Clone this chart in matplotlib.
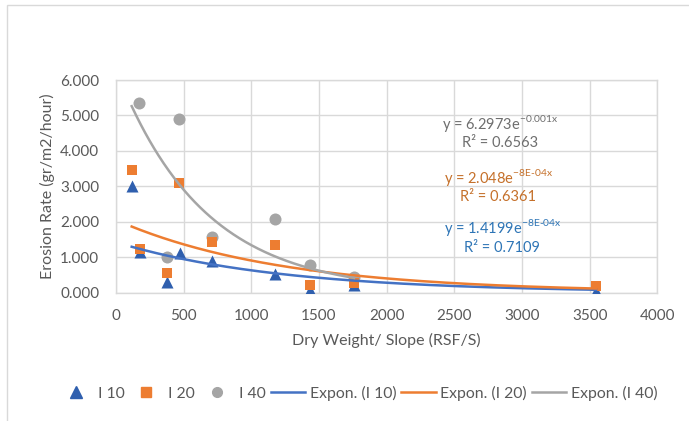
import numpy as np
import matplotlib
matplotlib.use("Agg")
import matplotlib.pyplot as plt
from matplotlib.lines import Line2D
from matplotlib.patches import Rectangle

plt.rcParams['font.family'] = ['Lato', 'DejaVu Sans']
plt.rcParams['mathtext.fontset'] = 'custom'
plt.rcParams['mathtext.rm'] = 'Lato'

# ---- data ----
x_i10 = [116, 177, 374, 473, 710, 1175, 1434, 1759, 3547]
y_i10 = [3.00, 1.15, 0.30, 1.12, 0.88, 0.53, 0.06, 0.20, 0.04]

x_i20 = [116, 177, 374, 466, 710, 1175, 1434, 1759, 3547]
y_i20 = [3.47, 1.22, 0.54, 3.08, 1.43, 1.34, 0.20, 0.26, 0.17]

x_i40 = [172, 374, 466, 710, 1175, 1434, 1759]
y_i40 = [5.35, 1.01, 4.91, 1.58, 2.07, 0.77, 0.43]

# exponential trendline coefficients (y = a * exp(k x))
trend_a = [1.4199, 2.048, 6.2973]
trend_k = [-0.00082, -0.00082, -0.00155]
trend_xmax = [3547, 3547, 1759]
trend_xmin = [116, 116, 116]

eq_labels = [r"y = 1.4199e$^{\mathregular{-8E\text{-}04x}}$",
             r"y = 2.048e$^{\mathregular{-8E\text{-}04x}}$",
             r"y = 6.2973e$^{\mathregular{-0.001x}}$"]
r2_labels = ["R² = 0.7109", "R² = 0.6361", "R² = 0.6563"]
series_names = ["I 10", "I 20", "I 40"]
trend_names = ["Expon. (I 10)", "Expon. (I 20)", "Expon. (I 40)"]

xticks = [0, 500, 1000, 1500, 2000, 2500, 3000, 3500, 4000]
yticks = [0, 1, 2, 3, 4, 5, 6]

blue = '#2F5FAE'
orange = '#ED7D31'
gray = '#A5A5A5'
line_blue = '#4472C4'
txt_blue = '#2E75B6'
txt_orange = '#C5702A'
txt_gray = '#6E6E6E'
label_col = '#595959'

W, H = 689, 421
fig = plt.figure(figsize=(W / 100, H / 100), dpi=100)
fig.patches.append(Rectangle((7 / W, -0.05), 1.2, 1 - 5 / H + 0.05,
                             transform=fig.transFigure, fill=False,
                             edgecolor='#D9D9D9', linewidth=1.0))

ax = fig.add_axes([116 / W, 1 - 292.5 / H, (657.3 - 116) / W, (292.5 - 80) / H])

ax.set_xlim(0, 4000)
ax.set_ylim(0, 6)
ax.set_xticks(xticks)
ax.set_yticks(yticks)
ax.set_yticklabels([f"{v:.3f}" for v in yticks])
ax.grid(True, color='#D9D9D9', linewidth=1.0)
ax.set_axisbelow(True)
for s in ax.spines.values():
    s.set_color('#D9D9D9')
    s.set_linewidth(1.0)
ax.tick_params(length=0, colors=label_col, labelsize=11)
ax.tick_params(axis='y', pad=12)
ax.tick_params(axis='x', pad=12)

ax.set_xlabel("Dry Weight/ Slope (RSF/S)", color=label_col, fontsize=11.5, labelpad=7)
ax.set_ylabel("Erosion Rate (gr/m2/hour)", color=label_col, fontsize=11.5, labelpad=4)

# scatter points
ax.scatter(x_i40, y_i40, marker='o', s=75, color=gray, zorder=3, linewidths=0)
ax.scatter(x_i10, y_i10, marker='^', s=75, color=blue, zorder=4, linewidths=0)
ax.scatter(x_i20, y_i20, marker='s', s=62, color=orange, zorder=5, linewidths=0)

# trendlines
tcols = [line_blue, orange, gray]
for a, k, x0, x1, c in zip(trend_a, trend_k, trend_xmin, trend_xmax, tcols):
    xs = np.linspace(x0, x1, 300)
    ax.plot(xs, a * np.exp(k * xs), color=c, linewidth=1.8, zorder=6)

# equations
ecols = [txt_blue, txt_orange, txt_gray]
eq_pos = [(503, 228, 502, 248), (499, 177, 498, 197), (500, 123, 500, 143)]
for lab, r2, c, (ex, ey, rx, ry) in zip(eq_labels, r2_labels, ecols, eq_pos):
    fig.text(ex / W, 1 - ey / H, lab, color=c, fontsize=10.5, ha='center', va='center')
    fig.text(rx / W, 1 - ry / H, r2, color=c, fontsize=10.5, ha='center', va='center')

# legend
handles = [
    Line2D([], [], marker='^', color=blue, linestyle='none', markersize=8),
    Line2D([], [], marker='s', color=orange, linestyle='none', markersize=7),
    Line2D([], [], marker='o', color=gray, linestyle='none', markersize=7),
    Line2D([], [], color=line_blue, linewidth=1.8),
    Line2D([], [], color=orange, linewidth=1.8),
    Line2D([], [], color=gray, linewidth=1.8),
]
labels = series_names + trend_names
leg = fig.legend(handles, labels, loc='center', bbox_to_anchor=(358 / W, 1 - 393 / H),
                 ncol=6, frameon=False, fontsize=11.3, handlelength=2.2,
                 handletextpad=0.3, columnspacing=0.3, borderpad=0.1)
for t in leg.get_texts():
    t.set_color(label_col)

fig.savefig("out.png", dpi=100, facecolor='white')
